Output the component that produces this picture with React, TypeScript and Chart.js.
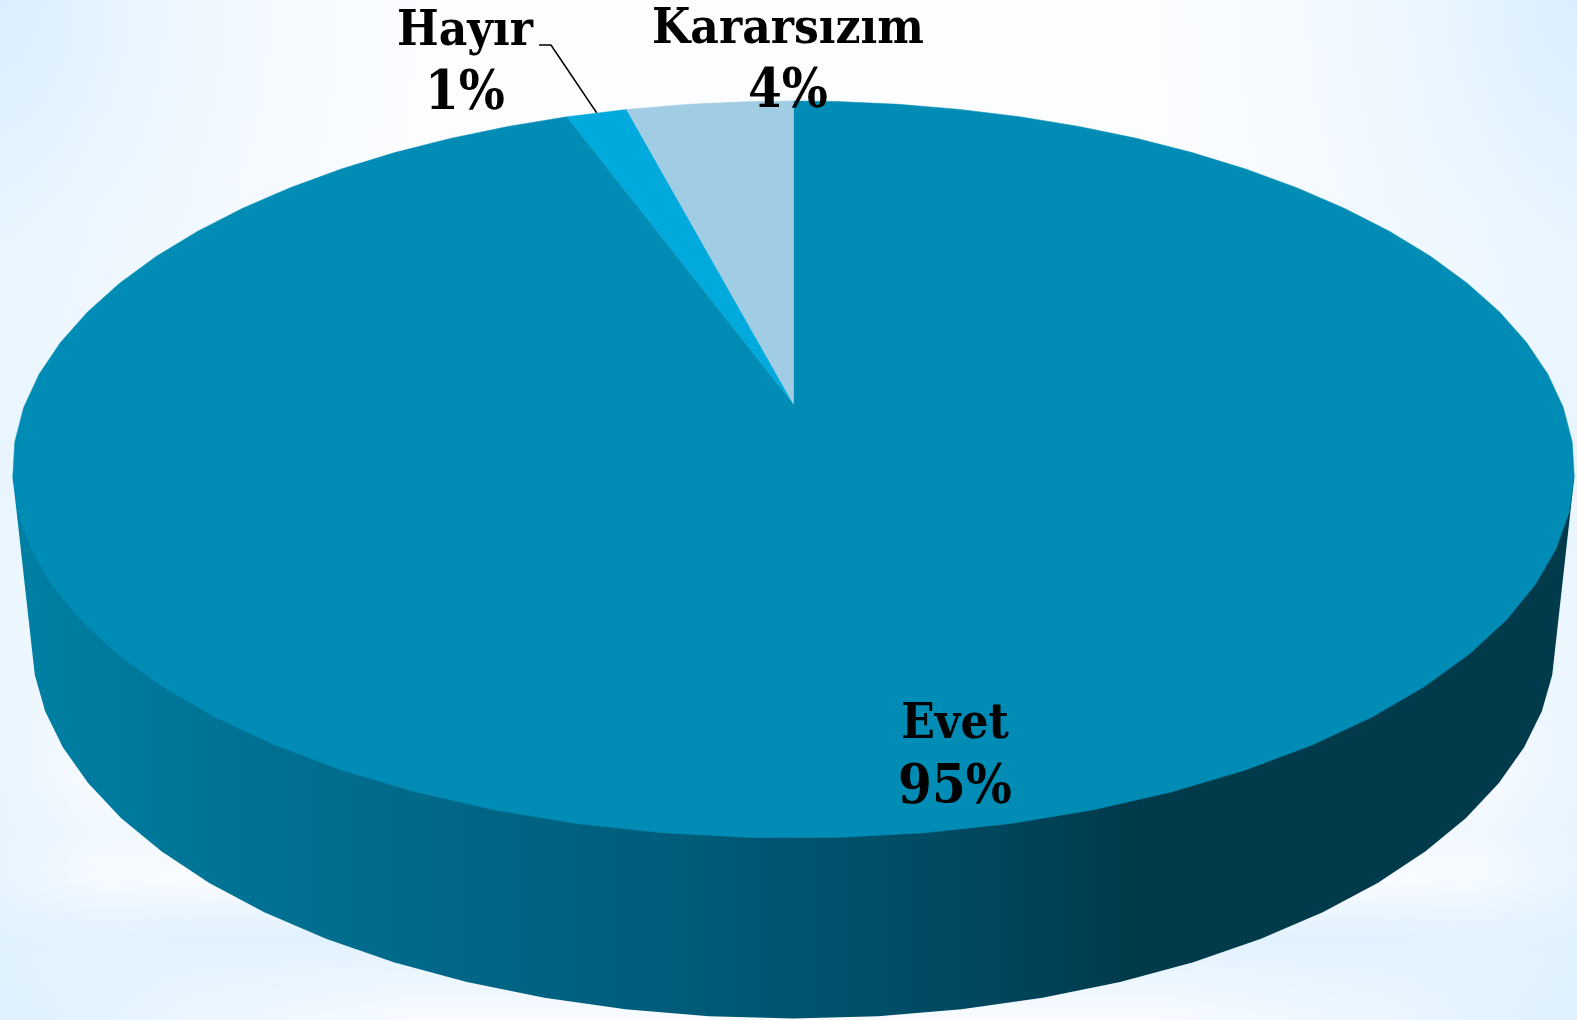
import React, { useEffect, useRef } from "react";
import { Chart, registerables } from "chart.js";

Chart.register(...registerables);

const categories = ["Evet", "Hayır", "Kararsızım"];
const values = [94.5, 1.49, 4.1];
const sliceColors = ["#018cb5", "#00aadc", "#a0cde4"];

const W = 1577;
const H = 1020;
const CX = 793.5;
const APEX_Y = 404;
const K = -0.1777;
const AX = 768.5;
const AY = 356.9;
const RIM_STEP = (5.42 * Math.PI) / 180;
const RIM_PHASE = (11.4 * Math.PI) / 180;
const BASE_FROM = (15.4 * Math.PI) / 180;
const BASE_TO = (164.6 * Math.PI) / 180;
const BASE_STEPS = 28;
const BASE_SX = 0.9757;
const BASE_SY = 1.027;
const BASE_CY = 640;
const TOP_CY = 469.5;
const NAME_FONT = 'condensed bold 49px "DejaVu Serif"';
const PCT_FONT = 'condensed bold 54px "DejaVu Serif"';
const labelAnchors = [
  { x: 955, y1: 738, y2: 803 },
  { x: 465, y1: 45, y2: 109 },
  { x: 788, y1: 43, y2: 107 },
];

const project = (a: number) => {
  const u = Math.cos(a);
  const v = Math.sin(a);
  const d = 1 + K * v;
  return { x: CX + (AX * u) / d, y: APEX_Y + (AY * v) / d };
};

const projectBase = (a: number) => {
  const p = project(a);
  return { x: CX + BASE_SX * (p.x - CX), y: BASE_CY + BASE_SY * (p.y - TOP_CY) };
};

const pie3d = {
  id: "pie3d",
  beforeDatasetsDraw(chart: any) {
    const ctx: CanvasRenderingContext2D = chart.ctx;
    const arcs = chart.getDatasetMeta(0).data;

    const wall = ctx.createLinearGradient(12, 0, 1574, 0);
    wall.addColorStop(0, "#0080a5");
    wall.addColorStop(0.1, "#007699");
    wall.addColorStop(0.25, "#00698a");
    wall.addColorStop(0.45, "#005a77");
    wall.addColorStop(0.62, "#00475e");
    wall.addColorStop(0.72, "#003a4b");
    wall.addColorStop(1, "#003a4b");
    ctx.beginPath();
    const tr = project(RIM_PHASE);
    ctx.moveTo(tr.x, tr.y);
    for (let i = 0; i <= BASE_STEPS; i++) {
      const p = projectBase(BASE_FROM + ((BASE_TO - BASE_FROM) * i) / BASE_STEPS);
      ctx.lineTo(p.x, p.y);
    }
    const tl = project(Math.PI - RIM_PHASE);
    ctx.lineTo(tl.x, tl.y);
    ctx.closePath();
    ctx.fillStyle = wall;
    ctx.fill();

    // top faces, from the arc elements' own angles, on a faceted rim
    arcs.forEach((arc: any, idx: number) => {
      const { startAngle, endAngle } = arc.getProps(["startAngle", "endAngle"], true);
      ctx.beginPath();
      ctx.moveTo(CX, APEX_Y);
      const s = project(startAngle);
      ctx.lineTo(s.x, s.y);
      let n = Math.ceil((startAngle - RIM_PHASE) / RIM_STEP);
      while (RIM_PHASE + n * RIM_STEP < endAngle) {
        const p = project(RIM_PHASE + n * RIM_STEP);
        ctx.lineTo(p.x, p.y);
        n++;
      }
      const e = project(endAngle);
      ctx.lineTo(e.x, e.y);
      ctx.closePath();
      ctx.fillStyle = sliceColors[idx];
      ctx.fill();
      ctx.strokeStyle = sliceColors[idx];
      ctx.lineWidth = 0.5;
      ctx.stroke();
    });
    return false;
  },
  afterDraw(chart: any) {
    const ctx: CanvasRenderingContext2D = chart.ctx;
    const arcs = chart.getDatasetMeta(0).data;

    const hayir = arcs[1].getProps(["startAngle", "endAngle"], true);
    const rim = project((hayir.startAngle + hayir.endAngle) / 2);
    ctx.beginPath();
    ctx.moveTo(539, 45);
    ctx.lineTo(551, 45);
    ctx.lineTo(rim.x, rim.y);
    ctx.lineWidth = 1.6;
    ctx.strokeStyle = "#000";
    ctx.stroke();

    ctx.fillStyle = "#000";
    ctx.textAlign = "center";
    ctx.textBaseline = "alphabetic";
    categories.forEach((c, i) => {
      const at = labelAnchors[i];
      ctx.font = NAME_FONT;
      ctx.fillText(c, at.x, at.y1);
      ctx.font = PCT_FONT;
      ctx.fillText(`${Math.round(values[i])}%`, at.x, at.y2);
    });
  },
};

const background = [
  "radial-gradient(ellipse 430px 620px at 0 0, rgba(218,238,255,1) 0, rgba(232,245,255,0.7) 40%, rgba(255,255,255,0) 100%)",
  "radial-gradient(ellipse 430px 620px at 100% 0, rgba(218,238,255,1) 0, rgba(232,245,255,0.7) 40%, rgba(255,255,255,0) 100%)",
  "radial-gradient(ellipse 420px 160px at 0 100%, rgba(222,240,255,0.9) 0, rgba(255,255,255,0) 100%)",
  "radial-gradient(ellipse 420px 160px at 100% 100%, rgba(222,240,255,0.9) 0, rgba(255,255,255,0) 100%)",
  "linear-gradient(90deg, rgba(228,243,255,0.8) 0%, rgba(240,248,255,0.4) 6%, rgba(255,255,255,0) 15%, rgba(255,255,255,0) 85%, rgba(240,248,255,0.4) 94%, rgba(228,243,255,0.8) 100%)",
  "linear-gradient(180deg, rgba(230,243,254,0) 76%, rgba(230,243,254,0.5) 81.5%, rgba(240,248,255,0.1) 86.5%, rgba(222,240,254,0.9) 92%, rgba(238,247,255,0.3) 100%)",
  "#fcfdff",
].join(", ");

export default function App() {
  const ref = useRef<HTMLCanvasElement>(null);
  useEffect(() => {
    document.body.style.margin = "0";
    document.body.style.overflow = "hidden";
    const chart = new Chart(ref.current!, {
      type: "pie",
      data: {
        labels: categories,
        datasets: [{ data: values, backgroundColor: sliceColors, borderWidth: 0 }],
      },
      options: {
        animation: false,
        responsive: false,
        events: [],
        plugins: { legend: { display: false }, tooltip: { enabled: false } },
      },
      plugins: [pie3d],
    } as any);
    return () => chart.destroy();
  }, []);
  return (
    <div style={{ width: W, height: H, background }}>
      <canvas ref={ref} width={W} height={H} style={{ display: "block" }} />
    </div>
  );
}
